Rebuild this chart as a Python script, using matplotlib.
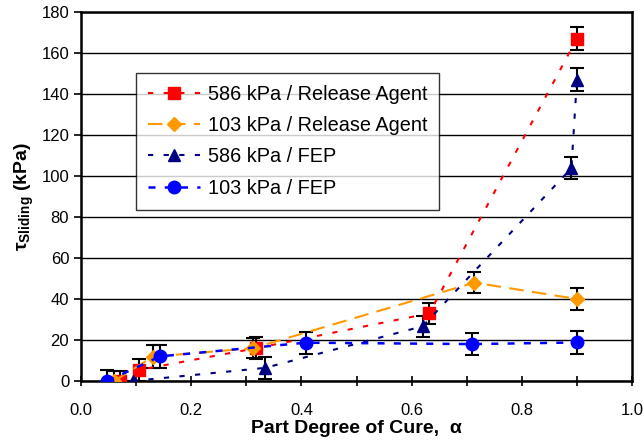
import numpy as np
import matplotlib
matplotlib.use("Agg")
import matplotlib.pyplot as plt

plt.rcParams['font.family'] = ['Liberation Sans', 'DejaVu Sans']
plt.rcParams['mathtext.fontset'] = 'custom'
plt.rcParams['mathtext.rm'] = 'Liberation Sans'
plt.rcParams['mathtext.bf'] = 'Liberation Sans:bold'

# 586 kPa / Release Agent
ra586_x = [0.071, 0.105, 0.318, 0.632, 0.90]
ra586_y = [0.0, 5.4, 16.0, 33.0, 167.0]
ra586_err = [5.0, 5.4, 5.5, 5.0, 5.5]

# 103 kPa / Release Agent
ra103_x = [0.060, 0.131, 0.312, 0.714, 0.90]
ra103_y = [0.0, 11.9, 16.0, 48.0, 40.0]
ra103_err = [5.0, 5.5, 5.0, 5.3, 5.4]

# 586 kPa / FEP
fep586_x = [0.094, 0.334, 0.620, 0.890, 0.90]
fep586_y = [0.0, 6.4, 26.7, 103.8, 147.0]
fep586_err = [0.0, 5.5, 5.0, 5.5, 5.5]

# 103 kPa / FEP
fep103_x = [0.048, 0.143, 0.408, 0.710, 0.90]
fep103_y = [0.0, 12.0, 18.7, 18.0, 18.8]
fep103_err = [5.4, 5.7, 5.3, 5.5, 5.5]

series = [
    (ra586_x, ra586_y, ra586_err, 'red', 's', 9, 1.5, (0, (2.5, 5)), '586 kPa / Release Agent'),
    (ra103_x, ra103_y, ra103_err, '#FF9900', 'D', 7.5, 1.5, (0, (7, 4)), '103 kPa / Release Agent'),
    (fep586_x, fep586_y, fep586_err, '#000080', '^', 9, 1.5, (0, (2.5, 5)), '586 kPa / FEP'),
    (fep103_x, fep103_y, fep103_err, 'blue', 'o', 9, 1.8, (0, (2.8, 3.7)), '103 kPa / FEP'),
]

fig = plt.figure(figsize=(6.44, 4.42), dpi=100)
ax = fig.add_axes([0.1258, 0.138, 0.8556, 0.8349])

for x, y, e, c, m, ms, lw, ls, lab in series:
    ax.errorbar(x, y, yerr=e, fmt='none', ecolor='black', elinewidth=1.5,
                capsize=5, capthick=1.5, zorder=3)
    ax.plot(x, y, color=c, linestyle=ls, linewidth=lw, marker=m,
            markersize=ms, markeredgecolor=c, label=lab, zorder=4)

ax.set_xlim(0, 1.0)
ax.set_ylim(0, 180)
ax.set_xticks(np.arange(0, 1.01, 0.1))
ax.set_xticklabels(['0.0', '', '0.2', '', '0.4', '', '0.6', '', '0.8', '', '1.0'])
ax.set_yticks(np.arange(0, 181, 20))
ax.yaxis.grid(True, color='black', linewidth=1)
ax.set_axisbelow(True)

for s in ax.spines.values():
    s.set_linewidth(1.8)
    s.set_color('black')

ax.tick_params(axis='x', direction='inout', length=7, width=1.2, labelsize=12, pad=12)
ax.tick_params(axis='y', direction='out', length=5, width=1.2, labelsize=12)

ax.set_xlabel('Part Degree of Cure,  α', fontsize=14, fontweight='bold', labelpad=2)
ax.set_ylabel('τ$_{\\mathbf{Sliding}}$ (kPa)', fontsize=14,
              fontweight='bold', labelpad=4)

leg = ax.legend(loc='upper left', bbox_to_anchor=(0.0998, 0.835), fontsize=14.3,
                frameon=True, fancybox=False, edgecolor='black',
                handlelength=2.6, labelspacing=0.62, borderpad=0.6,
                handletextpad=0.4, borderaxespad=0)
leg.get_frame().set_linewidth(1.0)
leg.set_zorder(5)

fig.savefig('out.png', dpi=100)
